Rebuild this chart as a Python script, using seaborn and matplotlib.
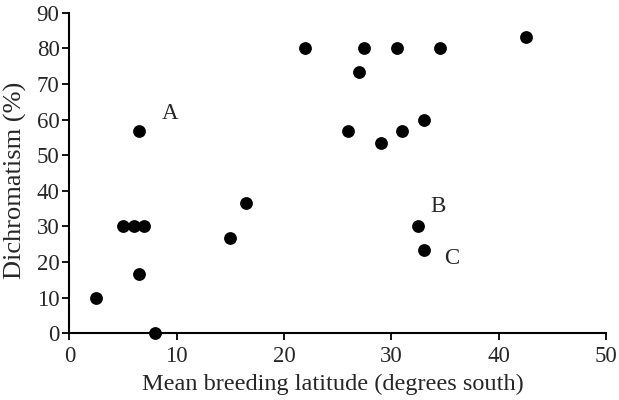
import pandas as pd
import matplotlib
matplotlib.use("Agg")
import matplotlib.pyplot as plt
import seaborn as sns

# ------------------ DATA ------------------
latitude = [2.5, 8, 6.5, 5, 6, 7, 6.5, 15, 16.5, 22, 27.5, 27, 30.5, 34.5, 42.5,
            26, 29, 31, 33, 32.5, 33]
dichromatism = [10, 0, 16.7, 30, 30, 30, 56.7, 26.7, 36.7, 80, 80, 73.3, 80, 80, 83.3,
                56.7, 53.3, 56.7, 60, 30, 23.3]

point_labels = ["A", "B", "C"]
label_x = [9.4, 34.3, 35.6]
label_y = [61.8, 35.5, 21]

df = pd.DataFrame({"lat": latitude, "dich": dichromatism})

# ------------------ PLOT ------------------
sns.set_style("ticks")
plt.rcParams["font.family"] = ["Liberation Serif", "DejaVu Serif"]

fig = plt.figure(figsize=(6.19, 4.0), dpi=100)
ax = fig.add_axes([0.112, 0.1667, 0.867, 0.8016])

sns.scatterplot(data=df, x="lat", y="dich", ax=ax, color="black",
                s=85, edgecolor="black", linewidth=0, clip_on=False, zorder=3)

for lab, lx, ly in zip(point_labels, label_x, label_y):
    ax.text(lx, ly, lab, fontsize=16.5, ha="center", va="center")

ax.set_xlim(0, 50)
ax.set_ylim(0, 90)
ax.set_xticks(range(0, 51, 10))
ax.set_yticks(range(0, 91, 10))
ax.tick_params(labelsize=16.5, length=5, width=1.3, color="black")
ax.tick_params(axis="x", pad=4)
ax.tick_params(axis="y", pad=2)
ax.set_xlabel("Mean breeding latitude (degrees south)", fontsize=17.5)
ax.set_ylabel("Dichromatism (%)", fontsize=19)
ax.xaxis.set_label_coords(0.492, -0.127)
ax.yaxis.set_label_coords(-0.079, 0.477)

sns.despine(ax=ax)
for side in ["left", "bottom"]:
    ax.spines[side].set_linewidth(1.5)
    ax.spines[side].set_color("black")

fig.savefig("out.png", dpi=100)
